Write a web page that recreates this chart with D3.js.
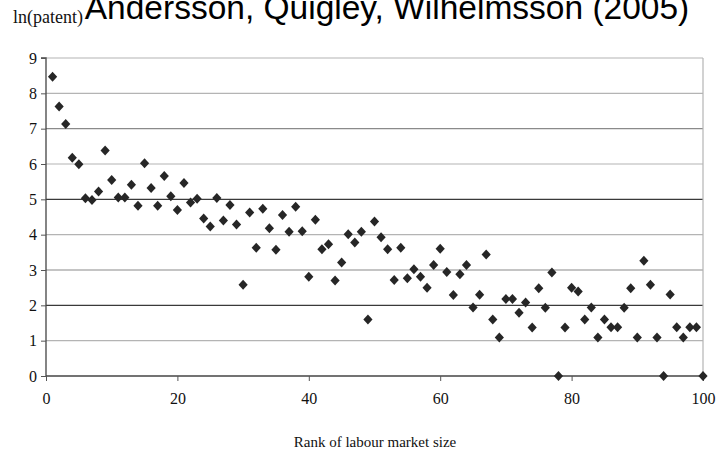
<!DOCTYPE html>
<html>
<head>
<meta charset="utf-8">
<script src="https://cdn.jsdelivr.net/npm/d3@7"></script>
<style>
  body { margin: 0; background: #fff; }
  svg { display: block; }
</style>
</head>
<body>
<svg id="chart" width="725" height="450"></svg>
<script>
/* data */
const ranks = [
  1, 2, 3, 4, 5, 6, 7, 8, 9, 10, 11, 12, 13, 14, 15, 16, 17, 18, 19, 20,
  21, 22, 23, 24, 25, 26, 27, 28, 29, 30, 31, 32, 33, 34, 35, 36, 37, 38, 39, 40,
  41, 42, 43, 44, 45, 46, 47, 48, 49, 50, 51, 52, 53, 54, 55, 56, 57, 58, 59, 60,
  61, 62, 63, 64, 65, 66, 67, 68, 69, 70, 71, 72, 73, 74, 75, 76, 77, 78, 79, 80,
  81, 82, 83, 84, 85, 86, 87, 88, 89, 90, 91, 92, 93, 94, 95, 96, 97, 98, 99, 100,
];
const lnPatent = [
  8.47, 7.63, 7.13, 6.18, 5.99, 5.03, 4.98, 5.22, 6.38, 5.55,
  5.05, 5.05, 5.41, 4.82, 6.02, 5.32, 4.82, 5.66, 5.09, 4.70,
  5.46, 4.91, 5.02, 4.46, 4.23, 5.04, 4.40, 4.84, 4.29, 2.58,
  4.63, 3.63, 4.73, 4.18, 3.57, 4.56, 4.08, 4.79, 4.10, 2.81,
  4.42, 3.59, 3.73, 2.70, 3.21, 4.01, 3.78, 4.08, 1.60, 4.37,
  3.93, 3.59, 2.72, 3.63, 2.77, 3.02, 2.81, 2.50, 3.14, 3.60,
  2.94, 2.29, 2.88, 3.14, 1.94, 2.30, 3.44, 1.60, 1.09, 2.18,
  2.18, 1.79, 2.08, 1.37, 2.48, 1.93, 2.93, 0.00, 1.37, 2.50,
  2.39, 1.60, 1.94, 1.09, 1.60, 1.38, 1.38, 1.93, 2.48, 1.09,
  3.26, 2.58, 1.09, 0.00, 2.31, 1.38, 1.09, 1.38, 1.38, 0.00,
];
const xTicks = [0, 20, 40, 60, 80, 100];
const yTicks = [0, 1, 2, 3, 4, 5, 6, 7, 8, 9];

const titleText = 'Andersson, Quigley, Wilhelmsson (2005)';
const yLabel = 'ln(patent)';
const xLabel = 'Rank of labour market size';

const points = ranks.map((r, i) => ({ rank: r, value: lnPatent[i] }));

/* layout */
const svg = d3.select('#chart');
const x = d3.scaleLinear().domain([0, 100]).range([46, 703]);
const y = d3.scaleLinear().domain([0, 9]).range([376, 58]);
const serif = '"Liberation Serif", "Times New Roman", serif';

// scanned look: some grid lines come out darker than others
const gridColor = (v) => {
  if (v === 2 || v === 5) return '#3a3a3a';
  if (v === 3 || v === 7) return '#8a8a8a';
  return '#b4b4b4';
};

/* grid */
svg.append('g')
  .selectAll('line')
  .data(yTicks.filter((v) => v > 0))
  .join('line')
  .attr('x1', x(0))
  .attr('x2', x(100))
  .attr('y1', (d) => y(d))
  .attr('y2', (d) => y(d))
  .attr('stroke', gridColor)
  .attr('stroke-width', 1.2);

/* right border */
svg.append('line')
  .attr('x1', x(100)).attr('x2', x(100))
  .attr('y1', y(9)).attr('y2', y(0))
  .attr('stroke', '#b4b4b4')
  .attr('stroke-width', 1.2);

/* axes */
const yAxis = svg.append('g')
  .attr('transform', `translate(${x(0)},0)`)
  .call(d3.axisLeft(y).tickValues(yTicks).tickSize(5).tickPadding(4).tickFormat(d3.format('d')));
const xAxis = svg.append('g')
  .attr('transform', `translate(0,${y(0)})`)
  .call(d3.axisBottom(x).tickValues(xTicks).tickSize(5).tickPadding(12).tickFormat(d3.format('d')));

[yAxis, xAxis].forEach((g) => {
  g.select('.domain').attr('stroke', '#444').attr('stroke-width', 1.3);
  g.selectAll('.tick line').attr('stroke', '#555');
  g.selectAll('.tick text')
    .attr('fill', '#111')
    .style('font-family', serif)
    .style('font-size', '16px');
});
yAxis.select('.domain').attr('d', `M-5,${y(9)}H0V${y(0)}`);
xAxis.select('.domain').attr('d', `M${x(0)},0H${x(100)}`);

/* markers */
const diamond = 'M0,-5L4.6,0L0,5L-4.6,0Z';
svg.append('g')
  .selectAll('path')
  .data(points)
  .join('path')
  .attr('d', diamond)
  .attr('transform', (d) => `translate(${x(d.rank)},${y(d.value)})`)
  .attr('fill', '#262626');

/* texts */
svg.append('text')
  .attr('x', 13)
  .attr('y', 23)
  .style('font-family', serif)
  .style('font-size', '18px')
  .attr('fill', '#111')
  .text(yLabel);

// the title sits partly above the top edge, as in the original
svg.append('text')
  .attr('x', 387)
  .attr('y', 19)
  .attr('text-anchor', 'middle')
  .style('font-family', '"Liberation Sans", Arial, sans-serif')
  .style('font-size', '33.5px')
  .attr('fill', '#000')
  .text(titleText);

svg.append('text')
  .attr('x', 375)
  .attr('y', 447)
  .attr('text-anchor', 'middle')
  .style('font-family', serif)
  .style('font-size', '15px')
  .attr('fill', '#111')
  .text(xLabel);
</script>
</body>
</html>
